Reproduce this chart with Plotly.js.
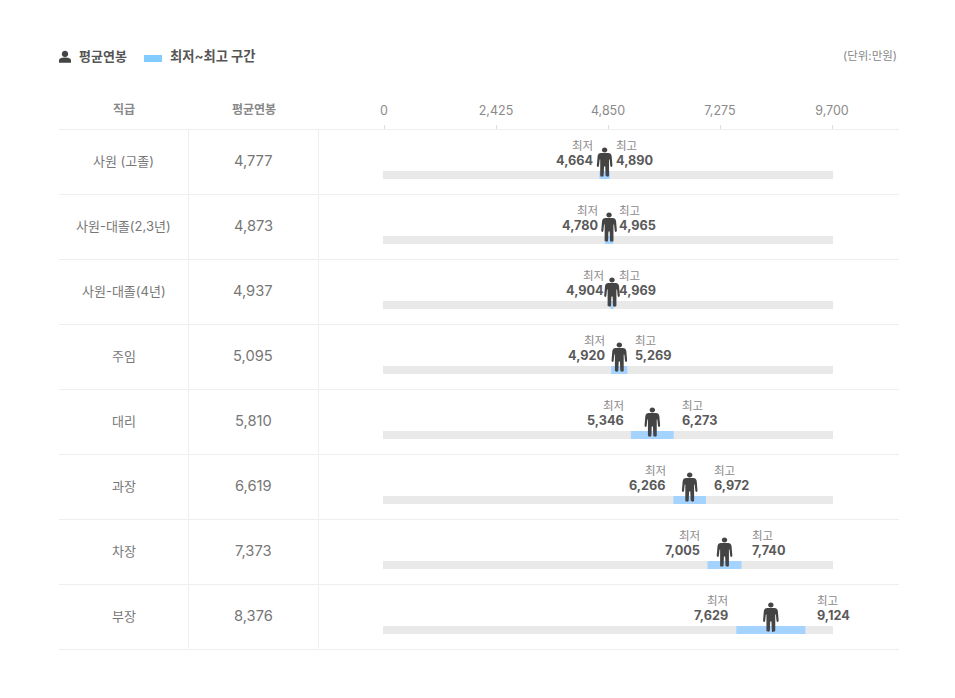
<!DOCTYPE html>
<html><head><meta charset="utf-8">
<script src="https://cdn.plot.ly/plotly-3.0.1.min.js"></script>
<style>html,body{margin:0;padding:0;background:#fff}</style></head>
<body><div id="chart" style="width:955px;height:698px"></div>
<script>
const ranks = ['사원 (고졸)','사원-대졸(2,3년)','사원-대졸(4년)','주임','대리','과장','차장','부장'];
const avgPay = [4777,4873,4937,5095,5810,6619,7373,8376];
const minPay = [4664,4780,4904,4920,5346,6266,7005,7629];
const maxPay = [4890,4965,4969,5269,6273,6972,7740,9124];
const trackMax = [9700,9700,9700,9700,9700,9700,9700,9700];
const tickVals = [0,2425,4850,7275,9700];
const tickText = ['0','2,425','4,850','7,275','9,700'];

const W=955,H=698,L=383,R=833,T=130,B=650;
const labelGapLeft=[5.9,5.8,5.6,5.1,6,6.6,6.7,6.9];
const labelGapRight=[4.8,4.6,4.2,6.2,7.2,7.4,9.5,10.1];
const FONT="Inter, 'Noto Sans CJK KR', sans-serif";
const px=x=>(x-L)/(R-L), py=y=>(B-y)/(B-T);
const fmt=v=>v.toLocaleString('en-US');
const BAR_H=8/65, BAR_OFF=(41-32.5)/65;
const trackPad=9700/448;

const track={type:'bar',orientation:'h',y:ranks,x:trackMax.map(v=>v+2*trackPad),base:-trackPad,width:BAR_H,offset:BAR_OFF,
  marker:{color:'#e9e9e9',line:{width:0}},hoverinfo:'skip',showlegend:false,cliponaxis:false};
const range={type:'bar',orientation:'h',y:ranks,x:maxPay.map((m,i)=>m-minPay[i]),base:minPay,width:BAR_H,offset:BAR_OFF,
  marker:{color:'#a5d3ff',line:{width:0}},hoverinfo:'skip',showlegend:false,cliponaxis:false};

const personPath='M0,15 C1.6,15 2.7,13.8 2.7,12.4 C2.7,11 1.6,10 0,10 C-1.6,10 -2.7,11 -2.7,12.4 C-2.7,13.8 -1.6,15 0,15 Z '+
 'M-3.5,9.6 L3.5,9.6 C5.6,9.6 6.6,8.6 7,6.5 L7.8,-3 C7.8,-4.6 6.2,-5 5.7,-3.6 L5,3 L4.4,3 L4.4,-13 C4.4,-14.6 1,-14.6 1,-13 L0.6,-4 L-0.6,-4 L-1,-13 C-1,-14.6 -4.4,-14.6 -4.4,-13 L-4.4,3 L-5,3 L-5.7,-3.6 C-6.2,-5 -7.8,-4.6 -7.8,-3 L-7,6.5 C-6.6,8.6 -5.6,9.6 -3.5,9.6 Z';
const bustPath='M0,6.2 C1.9,6.2 3.2,4.8 3.2,3.1 C3.2,1.4 1.9,0 0,0 C-1.9,0 -3.2,1.4 -3.2,3.1 C-3.2,4.8 -1.9,6.2 0,6.2 Z '+
 'M-6,-5.8 L6,-5.8 L6,-3.6 C6,-1.4 3,-0.6 0,-0.6 C-3,-0.6 -6,-1.4 -6,-3.6 Z';

const shapes=[];
const line=(x0,y0,x1,y1,c='#eeeeee')=>shapes.push({type:'line',xref:'paper',yref:'paper',x0:px(x0),x1:px(x1),y0:py(y0),y1:py(y1),line:{color:c,width:1},layer:'below'});
for(let i=0;i<=8;i++) line(59,T-0.5+65*i,899,T-0.5+65*i);
for(let i=0;i<8;i++){ line(188.5,T+65*i,188.5,T+65*(i+1)-1.5); line(318.5,T+65*i,318.5,T+65*(i+1)-1.5); }
ranks.forEach((r,i)=>shapes.push({type:'path',xref:'x',yref:'y',xsizemode:'pixel',ysizemode:'pixel',xanchor:avgPay[i],yanchor:r,path:personPath,fillcolor:'#444444',line:{width:0},layer:'above'}));
shapes.push({type:'path',xref:'paper',yref:'paper',xsizemode:'pixel',ysizemode:'pixel',xanchor:px(65),yanchor:py(57),path:bustPath,fillcolor:'#444444',line:{width:0}});
shapes.push({type:'rect',xref:'paper',yref:'paper',x0:px(144),x1:px(162),y0:py(55),y1:py(62),fillcolor:'#82ccff',line:{width:0}});

const ann=[];
const free=(x,y,t,size,color,anchor='center',bold=false)=>ann.push({xref:'paper',yref:'paper',x:px(x),y:py(y),text:bold?`<b>${t}</b>`:t,showarrow:false,xanchor:anchor,yanchor:'middle',font:{family:FONT,size,color},borderpad:0,borderwidth:0});
free(78.5,56,'평균연봉',13,'#555555','left',true);
free(169.5,56,'최저~최고 구간',13.3,'#555555','left',true);
free(897,56,'(단위:만원)',11.5,'#888888','right');
free(123.5,110,'직급',12,'#888888','center',true);
free(253.5,110,'평균연봉',12,'#888888','center',true);
ranks.forEach((r,i)=>{
  const yc=T+65*i+30.5;
  free(123.5,yc,r,13,'#777777');
  free(253.3,yc,fmt(avgPay[i]),14.7,'#777777');
  const lab=(x,s,anchor,ys,t,size,color,bold)=>ann.push({xref:'x',yref:'y',x,y:r,xshift:s,yshift:ys,text:bold?`<b>${t}</b>`:t,showarrow:false,xanchor:anchor,yanchor:'middle',font:{family:FONT,size,color},borderpad:0});
  lab(minPay[i],-labelGapLeft[i],'right',17,'최저',11.5,'#8a8a8a',false);
  lab(minPay[i],-labelGapLeft[i],'right',2,fmt(minPay[i]),12.7,'#5a5a5a',true);
  lab(maxPay[i],labelGapRight[i],'left',17,'최고',11.5,'#8a8a8a',false);
  lab(maxPay[i],labelGapRight[i],'left',2,fmt(maxPay[i]),12.7,'#5a5a5a',true);
});

Plotly.newPlot('chart',[track,range],{
  width:W,height:H,margin:{l:L,r:W-R,t:T,b:H-B,pad:0},paper_bgcolor:'#fff',plot_bgcolor:'#fff',
  barmode:'overlay',showlegend:false,font:{family:FONT},
  xaxis:{range:[-trackPad,9700+trackPad],side:'top',tickmode:'array',tickvals:tickVals,ticktext:tickText,ticks:'outside',ticklen:4,tickwidth:1,tickcolor:'#dddddd',
    tickfont:{family:FONT,size:12.5,color:'#8a8a8a'},showgrid:false,zeroline:false,showline:false,ticklabelstandoff:5,fixedrange:true},
  yaxis:{type:'category',categoryorder:'array',categoryarray:ranks,range:[7.5,-0.5],visible:false,fixedrange:true},
  shapes,annotations:ann
},{displayModeBar:false,staticPlot:true});
</script></body></html>
